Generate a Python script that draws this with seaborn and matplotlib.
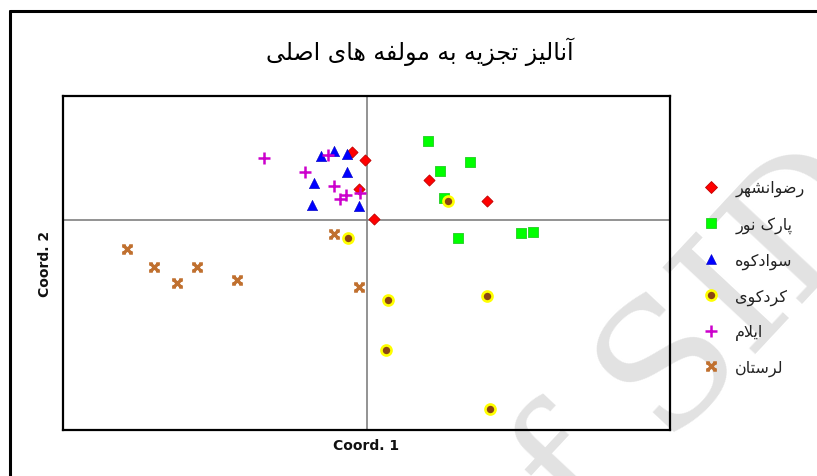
import numpy as np
import pandas as pd
import matplotlib
matplotlib.use("Agg")
import matplotlib.pyplot as plt
from matplotlib.lines import Line2D
from matplotlib.path import Path
import seaborn as sns

# ---------------------------------------------------------------------------
# Principal coordinates of the samples, grouped by collection site
# ---------------------------------------------------------------------------
sites = ["رضوانشهر", "پارک نور", "سوادکوه", "کردکوی", "ایلام", "لرستان"]

rezvanshahr_x = [-0.030, -0.004, -0.016, 0.014, 0.124, 0.240]
rezvanshahr_y = [0.136, 0.120, 0.062, 0.002, 0.080, 0.038]

parknoor_x = [0.122, 0.206, 0.146, 0.154, 0.182, 0.308, 0.332]
parknoor_y = [0.158, 0.116, 0.098, 0.044, -0.036, -0.026, -0.024]

savadkuh_x = [-0.092, -0.066, -0.040, -0.040, -0.106, -0.110, -0.016]
savadkuh_y = [0.128, 0.138, 0.132, 0.096, 0.074, 0.030, 0.028]

kordkuy_x = [0.162, -0.038, 0.042, 0.240, 0.038, 0.246]
kordkuy_y = [0.038, -0.036, -0.160, -0.152, -0.260, -0.378]

ilam_x = [-0.206, -0.078, -0.124, -0.066, -0.054, -0.042, -0.014]
ilam_y = [0.124, 0.130, 0.096, 0.068, 0.042, 0.050, 0.054]

lorestan_x = [-0.480, -0.426, -0.380, -0.340, -0.260, -0.066, -0.016]
lorestan_y = [-0.058, -0.094, -0.126, -0.094, -0.120, -0.028, -0.134]

title_text = "آنالیز تجزیه به مولفه های اصلی"
x_label = "Coord. 1"
y_label = "Coord. 2"

# ---------------------------------------------------------------------------
# Minimal Persian contextual shaping (matplotlib lays text out left-to-right
# without joining, so letters are mapped to their presentation forms and the
# string is reversed into visual order).
# ---------------------------------------------------------------------------
_FORMS = {  # isolated, final, initial, medial
    "\u0622": ("\uFE81", "\uFE82", None, None),
    "\u0627": ("\uFE8D", "\uFE8E", None, None),
    "\u0628": ("\uFE8F", "\uFE90", "\uFE91", "\uFE92"),
    "\u067E": ("\uFB56", "\uFB57", "\uFB58", "\uFB59"),
    "\u062A": ("\uFE95", "\uFE96", "\uFE97", "\uFE98"),
    "\u062C": ("\uFE9D", "\uFE9E", "\uFE9F", "\uFEA0"),
    "\u062F": ("\uFEA9", "\uFEAA", None, None),
    "\u0631": ("\uFEAD", "\uFEAE", None, None),
    "\u0632": ("\uFEAF", "\uFEB0", None, None),
    "\u0633": ("\uFEB1", "\uFEB2", "\uFEB3", "\uFEB4"),
    "\u0634": ("\uFEB5", "\uFEB6", "\uFEB7", "\uFEB8"),
    "\u0635": ("\uFEB9", "\uFEBA", "\uFEBB", "\uFEBC"),
    "\u0636": ("\uFEBD", "\uFEBE", "\uFEBF", "\uFEC0"),
    "\u0641": ("\uFED1", "\uFED2", "\uFED3", "\uFED4"),
    "\u06A9": ("\uFB8E", "\uFB8F", "\uFB90", "\uFB91"),
    "\u0644": ("\uFEDD", "\uFEDE", "\uFEDF", "\uFEE0"),
    "\u0645": ("\uFEE1", "\uFEE2", "\uFEE3", "\uFEE4"),
    "\u0646": ("\uFEE5", "\uFEE6", "\uFEE7", "\uFEE8"),
    "\u0647": ("\uFEE9", "\uFEEA", "\uFEEB", "\uFEEC"),
    "\u0648": ("\uFEED", "\uFEEE", None, None),
    "\u06CC": ("\uFBFC", "\uFBFD", "\uFBFE", "\uFBFF"),
}
_LAM_ALEF = {"\u0627": ("\uFEFB", "\uFEFC"), "\u0622": ("\uFEF5", "\uFEF6")}


def shape_rtl(text):
    out, i, n = [], 0, len(text)
    prev_joins = False
    while i < n:
        c = text[i]
        if c not in _FORMS:
            out.append(c)
            prev_joins = False
            i += 1
            continue
        if c == "\u0644" and i + 1 < n and text[i + 1] in _LAM_ALEF:
            iso, fin = _LAM_ALEF[text[i + 1]]
            out.append(fin if prev_joins else iso)
            prev_joins = False
            i += 2
            continue
        nxt = text[i + 1] if i + 1 < n else None
        iso, fin, ini, med = _FORMS[c]
        to_next = ini is not None and nxt in _FORMS
        if prev_joins and to_next:
            out.append(med)
        elif prev_joins:
            out.append(fin)
        elif to_next:
            out.append(ini)
        else:
            out.append(iso)
        prev_joins = to_next
        i += 1
    return "".join(reversed(out))


# ---------------------------------------------------------------------------
# Long-form table for seaborn
# ---------------------------------------------------------------------------
groups = [
    (rezvanshahr_x, rezvanshahr_y),
    (parknoor_x, parknoor_y),
    (savadkuh_x, savadkuh_y),
    (kordkuy_x, kordkuy_y),
    (ilam_x, ilam_y),
    (lorestan_x, lorestan_y),
]
df = pd.concat(
    [pd.DataFrame({"x": gx, "y": gy, "site": s}) for s, (gx, gy) in zip(sites, groups)],
    ignore_index=True,
)

# x-shaped marker with short end bars
star_x = Path(
    [(-1, -1), (1, 1), (-1, 1), (1, -1),
     (-1.5, 1), (-0.5, 1), (0.5, 1), (1.5, 1),
     (-1.5, -1), (-0.5, -1), (0.5, -1), (1.5, -1)],
    [Path.MOVETO, Path.LINETO] * 6,
)

brown = "#C0702F"
styles = {
    "رضوانشهر": dict(marker="D", s=32, color="#FF0000", edgecolor="#C00000", linewidth=0.6),
    "پارک نور": dict(marker="s", s=62, color="#00FF00", edgecolor="#22CC22", linewidth=0.6),
    "سوادکوه": dict(marker="^", s=55, color="#0000FF", edgecolor="#0000C0", linewidth=0.4),
    "کردکوی": dict(marker="o", s=52, color="#8B4513", edgecolor="#FFFF00", linewidth=1.9),
    "ایلام": dict(marker="+", s=85, color="#CC00CC", linewidth=1.8),
    "لرستان": dict(marker=star_x, s=60, color=brown, edgecolor=brown, linewidth=2.4),
}

# ---------------------------------------------------------------------------
# Figure
# ---------------------------------------------------------------------------
sns.set_theme(style="white")
plt.rcParams["font.family"] = ["DejaVu Sans"]

fig = plt.figure(figsize=(8.17, 4.77), dpi=100)
fig.patch.set_facecolor("white")
ax = fig.add_axes([63 / 817, 1 - 431 / 477, (670 - 63) / 817, (431 - 97) / 477])
ax.set_facecolor("none")

# faint diagonal watermark behind the plot
fig.text(0.818, 0.21, "of SID", rotation=47, fontsize=125, color="#E2E2E2",
         family="DejaVu Serif", ha="center", va="center", zorder=-5)

ax.axvline(0, color="#808080", lw=1.2, zorder=1)
ax.axhline(0, color="#808080", lw=1.2, zorder=1)

for site in sites:
    sub = df[df["site"] == site]
    sns.scatterplot(data=sub, x="x", y="y", ax=ax, legend=False, zorder=3,
                    **styles[site])

ax.set_xlim(-0.608, 0.606)
ax.set_ylim(-0.42, 0.248)
ax.set_xticks([])
ax.set_yticks([])
ax.set_xlabel(x_label, fontsize=10, fontweight="bold", labelpad=6, color="#111111")
ax.set_ylabel(y_label, fontsize=10, fontweight="bold", labelpad=8, color="#111111")
for sp in ax.spines.values():
    sp.set_visible(True)
    sp.set_color("black")
    sp.set_linewidth(1.6)

fig.text(420 / 817, 1 - 52 / 477, shape_rtl(title_text), fontsize=17,
         ha="center", va="center", color="black")

# legend
handles = []
for site in sites:
    st = styles[site]
    ms = np.sqrt(st["s"])
    if st["marker"] == "+":
        h = Line2D([], [], ls="none", marker="+", markersize=ms,
                   color=st["color"], markeredgewidth=st["linewidth"])
    else:
        h = Line2D([], [], ls="none", marker=st["marker"], markersize=ms,
                   markerfacecolor=st["color"], markeredgecolor=st["edgecolor"],
                   markeredgewidth=st["linewidth"])
    handles.append(h)

fig.legend(handles, [shape_rtl(s) for s in sites], loc="center left",
           bbox_to_anchor=(697 / 817, 1 - 279 / 477), frameon=False,
           fontsize=11.5, labelspacing=1.22, handlelength=1.0, handletextpad=1.0,
           borderaxespad=0, labelcolor="#222222")

# outer page frame (left and top edges)
fig.add_artist(Line2D([10 / 817, 10 / 817], [0, 1 - 12 / 477], color="black",
                      lw=2.2, transform=fig.transFigure))
fig.add_artist(Line2D([10 / 817, 1], [1 - 12 / 477, 1 - 12 / 477], color="black",
                      lw=2.2, transform=fig.transFigure))

fig.savefig("out.png", dpi=100)
